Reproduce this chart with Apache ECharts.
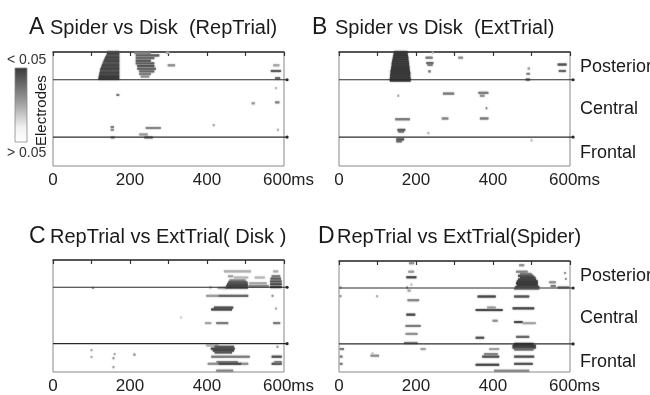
<!DOCTYPE html>
<html><head><meta charset="utf-8">
<script src="https://cdn.jsdelivr.net/npm/echarts@6/dist/echarts.min.js"></script>
<style>html,body{margin:0;padding:0;background:#fff}#c{width:650px;height:395px}</style>
</head><body><div id="c"></div>
<script>
// ---- data: [startMs, endMs, electrodeRow, significance(0..1)] ----
const timeTicks = [0, 100, 200, 300, 400, 500, 600];
const tickLabels = {0: '0', 200: '200', 400: '400', 600: '600ms'};
const regionBounds = [14.6, 44.8];
const regionNames = ['Posterior', 'Central', 'Frontal'];
const panelTitles = [
  ['A', 'Spider vs Disk  (RepTrial)'],
  ['B', 'Spider vs Disk  (ExtTrial)'],
  ['C', 'RepTrial vs ExtTrial( Disk )'],
  ['D', 'RepTrial vs ExtTrial(Spider)']
];
const scaleLabels = ['< 0.05', '> 0.05'];
const yLabel = 'Electrodes';

const spiderDiskRep = [
  [141,172,0,.85],[140,172,1,.9],[138,172,2,.8],[135,172,3,.9],[133,172,4,.85],[131,172,5,.9],
  [129,172,6,.8],[127,172,7,.9],[125,172,8,.85],[123,172,9,.9],[122,172,10,.8],[121,172,11,.9],
  [120,172,12,.85],[119,172,13,.95],[118,172,14,.95],
  [211,254,0.4,.6],[215,276,1.8,.75],[215,263,3.2,.7],[215,254,4.6,.8],[215,263,6,.75],
  [219,263,7.4,.8],[219,267,8.8,.75],[224,263,10.2,.7],[224,254,11.6,.6],[228,250,12.9,.5],
  [294,302,0.4,.4],[298,317,7,.5],
  [572,588,7,.4],[566,592,10,.75],[577,590,13.8,.7],
  [165,172,22.6,.6],[577,580,19,.3],[516,524,27,.45],[577,588,26.5,.55],[415,420,38.5,.35],
  [150,158,39.5,.6],[150,158,41,.5],[241,280,40,.55],[224,246,43.4,.45],[582,585,41,.35],
  [150,160,45,.5],[237,259,45,.6]
];
const spiderDiskExt = [
  [143,178,0,.95],[142,178,1,.95],[141,179,2,.95],[140,180,3,.95],[139,180,4,.95],[138,181,5,.95],
  [137,182,6,.95],[137,182,7,.95],[136,183,8,.95],[135,183,9,.95],[134,184,10,.95],[134,185,11,.95],
  [133,185,12,.95],[133,185,13,.95],[132,186,14,.95],[132,186,15,.95],
  [225,243,3,.6],[227,245,5.8,.7],[230,243,6.8,.6],[232,238,10.2,.6],[241,243,0.4,.3],
  [310,322,3,.5],
  [490,496,8.7,.4],[487,496,11.5,.55],[485,496,14.5,.7],
  [568,591,6.6,.8],[571,589,10,.7],
  [152,154,23,.4],[270,299,21.9,.6],[362,388,21.5,.6],[366,378,23,.5],[381,385,29.6,.5],
  [146,184,35.4,.6],[267,284,35,.55],[366,388,35,.6],[152,172,41,.75],[154,169,41.8,.7],
  [230,232,42.7,.35],
  [149,169,46,.8],[149,163,47,.7],[498,500,46.5,.3]
];
const repExtDisk = [
  [444,514,6.1,.35],[572,585,6.1,.35],[455,468,8.7,.4],[470,507,9.4,.3],[524,550,9.4,.3],
  [458,500,11,.6],[455,505,12,.8],[452,506,13,.85],[450,506,14,.9],[440,506,15,.7],
  [568,590,8.7,.6],[565,592,10,.75],[564,594,11.5,.8],[564,594,13,.85],[564,594,14.5,.9],
  [510,555,12.5,.4],[508,560,14,.55],
  [407,409,14.7,.4],[428,446,15,.4],[102,105,15,.5],
  [398,430,19.2,.45],[430,507,19.2,.7],[568,572,19.2,.5],
  [418,468,25.5,.8],[411,465,26.5,.85],[577,580,26,.4],
  [331,333,30.8,.2],
  [395,411,33.8,.4],[424,455,33.8,.6],[572,590,33.8,.6],
  [398,430,45.8,.35],[420,470,46.5,.8],[410,472,47.5,.85],[415,470,48.5,.9],[420,465,49.5,.8],
  [581,584,46.5,.5],
  [411,511,51.8,.6],[568,594,51.8,.8],
  [425,480,54.7,.6],[402,430,55.6,.5],[430,490,55.6,.85],[490,507,55.6,.5],
  [568,594,55.6,.8],[575,594,54.7,.6],
  [424,468,59.3,.55],
  [98,101,48.3,.4],[98,101,52,.4],[158,161,50.4,.4],[155,158,52.6,.5],[155,158,57.4,.45],
  [209,214,50.7,.5]
];
const repExtSpider = [
  [182,195,1.2,.5],[180,195,5.8,.45],[175,201,8.8,.85],[186,188,12.8,.3],[175,179,14.3,.5],
  [178,186,16,.4],
  [468,481,2.3,.5],[460,490,5.8,.55],
  [470,500,7,.6],[465,505,8,.8],[470,510,9,.9],[465,512,10,.9],[462,516,11,.95],[460,516,12,.95],
  [462,516,13,.95],[458,520,14,.9],[455,520,15,.6],
  [546,563,11.5,.5],[550,563,13.5,.6],[568,598,14.3,.6],[585,588,6.5,.5],[587,590,9.7,.5],
  [2,5,14.3,.4],
  [2,5,19,.5],[97,99,19,.4],
  [178,208,21.2,.55],[175,198,29,.85],[173,212,35.1,.6],[173,204,39.4,.5],[169,204,44.3,.6],
  [212,225,47.6,.4],
  [360,407,19.2,.85],[455,494,19.2,.8],
  [355,425,26.5,.85],[385,407,25.2,.45],[451,507,25.6,.85],
  [399,412,32.3,.5],[455,477,33,.85],[477,511,33.6,.4],
  [355,377,41.5,.8],[460,494,41,.7],
  [455,505,44.8,.9],[451,511,45.8,.95],[451,511,46.8,.9],[455,505,47.8,.7],[390,416,47.6,.4],
  [377,412,50.3,.55],[372,416,51.7,.8],[455,507,51.7,.8],
  [355,416,56.1,.85],[455,503,55.6,.8],
  [403,494,59.3,.55],
  [2,13,47.6,.6],[2,9,51.7,.6],[2,9,55.6,.6],[82,104,51.2,.5],[85,87,50,.3]
];
const panelData = [spiderDiskRep, spiderDiskExt, repExtDisk, repExtSpider];

// ---- layout ----
const FONT = '"Liberation Sans", Arial, Helvetica, sans-serif';
const grids = [
  {left: 53, top: 52, width: 231, height: 114},
  {left: 339, top: 52, width: 231, height: 114},
  {left: 53, top: 260, width: 231, height: 115},
  {left: 339, top: 261, width: 231, height: 114}
];
const titlePos = [
  {lx: 29, tx: 50, y: 29},
  {lx: 312, tx: 335, y: 29},
  {lx: 29, tx: 50, y: 238},
  {lx: 318, tx: 337, y: 238}
];

function renderSeg(params, api) {
  const y = api.value(2);
  const p0 = api.coord([api.value(0), y]);
  const p1 = api.coord([api.value(1), y]);
  const h = Math.abs(api.size([0, 1])[1]) * 1.1;
  const c = api.visual('color');
  return {
    type: 'rect',
    shape: {x: p0[0], y: p0[1] - h / 2, width: Math.max(p1[0] - p0[0], 1.6), height: h},
    style: {fill: c, shadowBlur: 1.5, shadowColor: c}
  };
}
function renderBound(params, api) {
  const y = api.value(1);
  const a = api.coord([0, y]);
  const b = api.coord([608, y]);
  return {
    type: 'group',
    children: [
      {type: 'line', shape: {x1: a[0], y1: a[1], x2: b[0], y2: b[1]}, style: {stroke: '#2a2a2a', lineWidth: 1.2}},
      {type: 'circle', shape: {cx: b[0], cy: b[1], r: 1.6}, style: {fill: '#2a2a2a'}}
    ]
  };
}

const xAxes = [], yAxes = [], series = [];
grids.forEach((g, i) => {
  xAxes.push({
    gridIndex: i, type: 'value', min: 0, max: 600, interval: 100,
    axisLine: {show: true, lineStyle: {color: '#333', width: 1.5}},
    axisTick: {show: true, length: 4, lineStyle: {color: '#333', width: 1.2}},
    splitLine: {show: false},
    axisLabel: {
      margin: 6, color: '#222', fontSize: 17, fontFamily: FONT,
      formatter: v => tickLabels[v] !== undefined ? (v === 600 ? '{m|' + tickLabels[v] + '}' : tickLabels[v]) : '',
      rich: {m: {fontSize: 17, fontFamily: FONT, color: '#222', padding: [0, 0, 0, 9]}}
    }
  });
  yAxes.push({
    gridIndex: i, type: 'value', min: 0, max: 60, inverse: true,
    axisLine: {show: false}, axisTick: {show: false}, axisLabel: {show: false}, splitLine: {show: false}
  });
  series.push({
    type: 'custom', xAxisIndex: i, yAxisIndex: i, renderItem: renderSeg,
    encode: {x: [0, 1], y: 2}, data: panelData[i], z: 2
  });
  series.push({
    type: 'custom', xAxisIndex: i, yAxisIndex: i, renderItem: renderBound,
    encode: {x: 0, y: 1}, data: regionBounds.map(b => [0, b]), z: 3, silent: true
  });
});

const graphic = [];
titlePos.forEach((p, i) => {
  graphic.push({type: 'text', left: p.lx, top: p.y - 13, style: {text: panelTitles[i][0], font: '23px ' + FONT, fill: '#1a1a1a'}});
  graphic.push({type: 'text', left: p.tx, top: p.y - 11, style: {text: panelTitles[i][1], font: '20px ' + FONT, fill: '#1a1a1a'}});
});
// region labels on right panels
[grids[1], grids[3]].forEach(g => {
  const centers = [
    g.top + g.height * (regionBounds[0] / 2) / 60,
    g.top + g.height * ((regionBounds[0] + regionBounds[1]) / 2) / 60,
    g.top + g.height * ((regionBounds[1] + 60) / 2) / 60
  ];
  regionNames.forEach((n, k) => {
    graphic.push({type: 'text', x: 580, y: centers[k] - 8, style: {text: n, font: '18px ' + FONT, fill: '#1a1a1a'}});
  });
});
// colour scale
graphic.push({type: 'rect', shape: {x: 15, y: 68, width: 12, height: 74},
  style: {fill: new echarts.graphic.LinearGradient(0, 0, 0, 1, [
    {offset: 0, color: '#3a3a3a'}, {offset: 0.45, color: '#9a9a9a'}, {offset: 0.8, color: '#f2f2f2'}, {offset: 1, color: '#ffffff'}]),
    stroke: '#888', lineWidth: 0.8}});
graphic.push({type: 'text', x: 7, y: 53, style: {text: scaleLabels[0], font: '14px ' + FONT, fill: '#333'}});
graphic.push({type: 'text', x: 7, y: 146, style: {text: scaleLabels[1], font: '14px ' + FONT, fill: '#333'}});
graphic.push({type: 'text', x: 34, y: 146, rotation: Math.PI / 2, style: {text: yLabel, font: '15px ' + FONT, fill: '#1a1a1a'}});

const chart = echarts.init(document.getElementById('c'), null, {renderer: 'canvas'});
chart.setOption({
  backgroundColor: '#fff',
  animation: false,
  grid: grids.map(g => Object.assign({show: true, borderColor: '#888', borderWidth: 1, containLabel: false}, g)),
  xAxis: xAxes,
  yAxis: yAxes,
  visualMap: {show: false, type: 'continuous', min: 0, max: 1, dimension: 3,
    seriesIndex: [0, 2, 4, 6], inRange: {color: ['#f4f4f4', '#2e2e2e']}},
  series: series,
  graphic: graphic
});
</script></body></html>
